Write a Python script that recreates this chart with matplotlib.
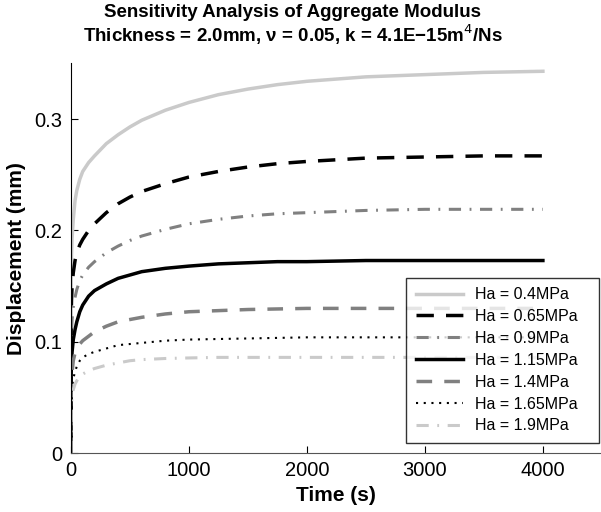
import numpy as np
import matplotlib
matplotlib.use("Agg")
import matplotlib.pyplot as plt

plt.rcParams['font.family'] = ['Liberation Sans', 'DejaVu Sans']

# Datos (tiempo en s, desplazamiento en mm)
time_s = [0, 2, 5, 10, 20, 35, 50, 75, 100, 150, 200, 300, 400, 500, 600, 800,
          1000, 1250, 1500, 1750, 2000, 2500, 3000, 3500, 4000]

disp_04 = [0, 0.160, 0.178, 0.193, 0.210, 0.227, 0.236, 0.246, 0.253, 0.261, 0.267,
           0.278, 0.286, 0.293, 0.299, 0.308, 0.315, 0.322, 0.327, 0.331, 0.334,
           0.338, 0.340, 0.342, 0.343]
disp_065 = [0, 0.120, 0.138, 0.150, 0.162, 0.173, 0.180, 0.187, 0.192, 0.200, 0.206,
            0.216, 0.224, 0.230, 0.235, 0.242, 0.248, 0.253, 0.257, 0.260, 0.262,
            0.265, 0.266, 0.267, 0.267]
disp_09 = [0, 0.095, 0.110, 0.120, 0.131, 0.140, 0.147, 0.155, 0.160, 0.167, 0.172,
           0.180, 0.186, 0.191, 0.195, 0.201, 0.206, 0.210, 0.213, 0.215, 0.216,
           0.218, 0.219, 0.219, 0.219]
disp_115 = [0, 0.070, 0.082, 0.091, 0.102, 0.111, 0.118, 0.127, 0.133, 0.141, 0.146,
            0.152, 0.157, 0.160, 0.163, 0.166, 0.168, 0.170, 0.171, 0.172, 0.172,
            0.173, 0.173, 0.173, 0.173]
disp_14 = [0, 0.055, 0.065, 0.073, 0.083, 0.090, 0.093, 0.098, 0.101, 0.105, 0.109,
           0.114, 0.118, 0.120, 0.122, 0.125, 0.127, 0.128, 0.129, 0.1295, 0.130,
           0.130, 0.130, 0.130, 0.130]
disp_165 = [0, 0.045, 0.053, 0.060, 0.067, 0.073, 0.078, 0.083, 0.086, 0.089, 0.091,
            0.094, 0.097, 0.098, 0.099, 0.101, 0.102, 0.1025, 0.103, 0.1035, 0.104,
            0.104, 0.104, 0.104, 0.104]
disp_19 = [0, 0.038, 0.045, 0.051, 0.057, 0.062, 0.065, 0.069, 0.071, 0.074, 0.076,
           0.079, 0.081, 0.083, 0.084, 0.085, 0.0855, 0.086, 0.086, 0.086, 0.086,
           0.086, 0.086, 0.086, 0.086]

labels = ["Ha = 0.4MPa", "Ha = 0.65MPa", "Ha = 0.9MPa", "Ha = 1.15MPa",
          "Ha = 1.4MPa", "Ha = 1.65MPa", "Ha = 1.9MPa"]
series = [disp_04, disp_065, disp_09, disp_115, disp_14, disp_165, disp_19]

light = "#cacaca"
mid = "#808080"
estilos = [
    dict(color=light, ls="-", lw=2.5),
    dict(color="black", ls=(0, (5, 3.5)), lw=2.5),
    dict(color=mid, ls=(0, (4, 2.8, 0.6, 2.8)), lw=2.2),
    dict(color="black", ls="-", lw=2.5),
    dict(color=mid, ls=(0, (4.5, 3.5)), lw=2.5),
    dict(color="black", ls=(0, (1, 2.7)), lw=1.5),
    dict(color=light, ls=(0, (4, 2.8, 0.6, 2.8)), lw=2.2),
]

fig = plt.figure(figsize=(6.01, 5.12), dpi=100)
ax = fig.add_axes([0.118, 0.115, 0.8835, 0.761])

for d, lab, st in zip(series, labels, estilos):
    ax.plot(time_s, d, label=lab, **st)

ax.set_xlim(0, 4500)
ax.set_ylim(0, 0.35)
ax.set_xticks([0, 1000, 2000, 3000, 4000])
ax.set_yticks([0, 0.1, 0.2, 0.3])
ax.set_yticklabels(["0", "0.1", "0.2", "0.3"])
ax.tick_params(direction="in", length=5, labelsize=14.5, colors="black")
ax.tick_params(axis="x", pad=6)
ax.tick_params(axis="y", pad=6)
for s in ["top", "right"]:
    ax.spines[s].set_visible(False)
ax.spines["bottom"].set_color("#555555")

ax.set_xlabel("Time (s)", fontsize=15, fontweight="bold", labelpad=4)
ax.set_ylabel("Displacement (mm)", fontsize=15, fontweight="bold", labelpad=6)

fig.text(0.487, 0.993, "Sensitivity Analysis of Aggregate Modulus\n"
         "Thickness = 2.0mm, \u03bd = 0.05, k = 4.1E\u221215m$^4$/Ns",
         ha="center", va="top", fontsize=13.5, fontweight="bold", linespacing=1.08)

leg = ax.legend(loc="lower left", mode="expand", fontsize=11.5, handlelength=3.0,
                handletextpad=0.7, borderpad=0.6,
                frameon=True, fancybox=False, edgecolor="black",
                bbox_to_anchor=(0.631, 0.026, 0.363, 0.0), borderaxespad=0,
                labelspacing=0.43)
leg.get_frame().set_linewidth(1.0)

fig.savefig("out.png", dpi=100)
